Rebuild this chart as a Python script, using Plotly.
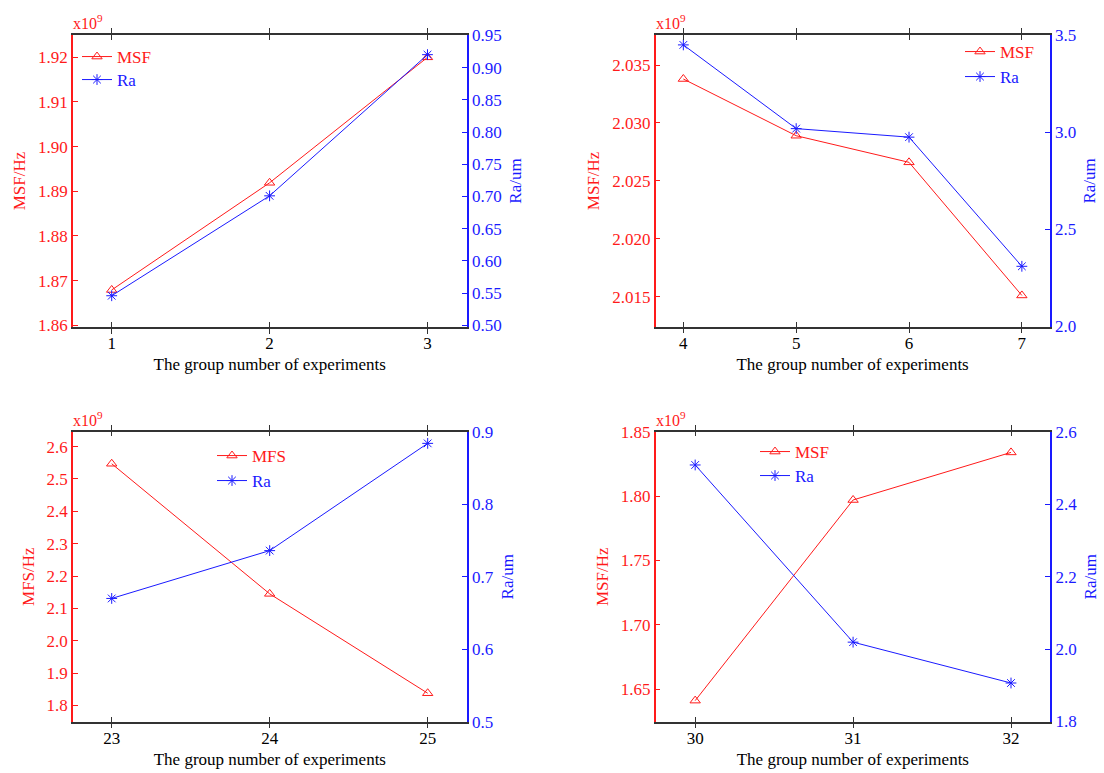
import plotly.graph_objects as go

# ---------------- data ----------------
groups1 = [1, 2, 3]
msf1 = [1.8679, 1.8919, 1.9200]
ra1 = [0.546, 0.701, 0.920]

groups2 = [4, 5, 6, 7]
msf2 = [2.0338, 2.0289, 2.0266, 2.0151]
ra2 = [3.45, 3.019, 2.975, 2.31]

groups3 = [23, 24, 25]
mfs3 = [2.547, 2.145, 1.838]
ra3 = [0.670, 0.736, 0.884]

groups4 = [30, 31, 32]
msf4 = [1.641, 1.797, 1.834]
ra4 = [2.509, 2.019, 1.906]

series_names = [("MSF", "Ra"), ("MSF", "Ra"), ("MFS", "Ra"), ("MSF", "Ra")]
left_titles = ["MSF/Hz", "MSF/Hz", "MFS/Hz", "MSF/Hz"]
right_title = "Ra/um"
x_title = "The group number of experiments"

# ---------------- style ----------------
W, H = 1104, 773
FONT = "Liberation Serif, Times New Roman, serif"
RED = "#ff1a1a"
BLUE = "#1a1aff"
GRAY = "#333333"
FS = 17

panels = [
    dict(x=groups1, a=msf1, b=ra1, xr=[0.755, 3.247], yr=[1.8596, 1.925], y2r=[0.4975, 0.9505],
         ydt=0.01, yfmt=".2f", y2dt=0.05, y2fmt=".2f", y0=1.86, y20=0.5,
         dom_x=[73, 466.5], dom_y=[35, 327]),
    dict(x=groups2, a=msf2, b=ra2, xr=[3.755, 7.245], yr=[2.0124, 2.0376], y2r=[1.999, 3.501],
         ydt=0.005, yfmt=".3f", y2dt=0.5, y2fmt=".1f", y0=2.015, y20=2.0,
         dom_x=[655.7, 1049.5], dom_y=[35, 326.7]),
    dict(x=groups3, a=mfs3, b=ra3, xr=[22.755, 25.247], yr=[1.75, 2.646], y2r=[0.4999, 0.9001],
         ydt=0.1, yfmt=".1f", y2dt=0.1, y2fmt=".1f", y0=1.8, y20=0.5,
         dom_x=[73, 466.7], dom_y=[431.7, 721.7]),
    dict(x=groups4, a=msf4, b=ra4, xr=[29.75, 32.247], yr=[1.6246, 1.8501], y2r=[1.799, 2.601],
         ydt=0.05, yfmt=".2f", y2dt=0.2, y2fmt=".1f", y0=1.65, y20=1.8,
         dom_x=[655.7, 1050], dom_y=[431.7, 721.7]),
]

# legend rows: (x px, row-centre y px) for the two entries of each panel
legend_rows = [
    [(77, 57), (77, 80)],
    [(960, 52), (960, 77)],
    [(212, 456), (212, 481)],
    [(755, 452), (755, 476)],
]
LEG_OFF = 18  # px from legend top to row centre (single entry)

fig = go.Figure()
layout = dict(
    width=W, height=H, margin=dict(l=0, r=0, t=0, b=0, pad=0), autosize=False,
    paper_bgcolor="white", plot_bgcolor="white", showlegend=True,
    font=dict(family=FONT, size=FS, color="black"),
    annotations=[],
)

for i, p in enumerate(panels):
    k = i + 1
    xa = "x" if k == 1 else f"x{k}"
    ya = f"y{2*k-1}" if k > 1 else "y"
    yb = f"y{2*k}"
    la = "legend" if k == 1 else f"legend{2*k-1}"
    lb = f"legend{2*k}"
    n1, n2 = series_names[i]

    fig.add_trace(go.Scatter(
        x=p["x"], y=p["a"], mode="lines+markers", name=n1, showlegend=True,
        line=dict(color=RED, width=1),
        marker=dict(symbol="triangle-up-open", size=9, color=RED, line=dict(width=1)),
        xaxis=xa, yaxis=ya, legend=la,
    ))
    fig.add_trace(go.Scatter(
        x=p["x"], y=p["b"], mode="lines+markers", name=n2, showlegend=True,
        line=dict(color=BLUE, width=1),
        marker=dict(symbol="asterisk-open", size=9, color=BLUE, line=dict(width=1, color=BLUE)),
        xaxis=xa, yaxis=yb, legend=lb,
    ))

    dx = [p["dom_x"][0] / W, p["dom_x"][1] / W]
    dy = [1 - p["dom_y"][1] / H, 1 - p["dom_y"][0] / H]
    xkey = "xaxis" if k == 1 else f"xaxis{k}"
    yakey = "yaxis" if k == 1 else f"yaxis{2*k-1}"
    ybkey = f"yaxis{2*k}"

    layout[xkey] = dict(
        domain=dx, anchor=ya, range=p["xr"], tickvals=p["x"], automargin=False,
        showline=True, linecolor=GRAY, linewidth=1.5, mirror="allticks",
        ticks="inside", ticklen=5, tickcolor=GRAY, showgrid=False, zeroline=False,
        tickfont=dict(size=FS, color="black", family=FONT),
        title=dict(text=x_title, font=dict(size=FS, color="black", family=FONT), standoff=6),
    )
    layout[yakey] = dict(
        domain=dy, anchor=xa, range=p["yr"], tick0=p["y0"], dtick=p["ydt"], tickformat=p["yfmt"],
        automargin=False,
        showline=True, linecolor=RED, linewidth=1.5, ticks="inside", ticklen=5, tickcolor=RED,
        showgrid=False, zeroline=False,
        tickfont=dict(size=FS, color=RED, family=FONT),
        title=dict(text=left_titles[i], font=dict(size=FS, color=RED, family=FONT), standoff=8),
    )
    layout[ybkey] = dict(
        anchor=xa, overlaying=ya, side="right", range=p["y2r"], tick0=p["y20"], dtick=p["y2dt"],
        tickformat=p["y2fmt"], automargin=False,
        showline=True, linecolor=BLUE, linewidth=2, ticks="inside", ticklen=5, tickcolor=BLUE,
        showgrid=False, zeroline=False,
        tickfont=dict(size=FS, color=BLUE, family=FONT),
        title=dict(text=right_title, font=dict(size=FS, color=BLUE, family=FONT), standoff=8),
    )
    for lg, (lx, ly), col in zip((la, lb), legend_rows[i], (RED, BLUE)):
        layout[lg] = dict(
            x=lx / W, y=1 - (ly - LEG_OFF) / H, xanchor="left", yanchor="top",
            bgcolor="rgba(0,0,0,0)", borderwidth=0, itemsizing="trace",
            font=dict(size=FS, family=FONT, color=col),
        )
    layout["annotations"].append(dict(
        text="x10<sup>9</sup>", xref=f"{xa} domain", yref=f"{ya} domain",
        x=0, y=1, xanchor="left", yanchor="bottom", showarrow=False,
        font=dict(size=16, color=RED, family=FONT), yshift=1, xshift=-2,
    ))

fig.update_layout(**layout)
fig.write_html(
    "out.html",
    post_script="document.body.style.margin='0';document.body.style.overflow='hidden';",
)
